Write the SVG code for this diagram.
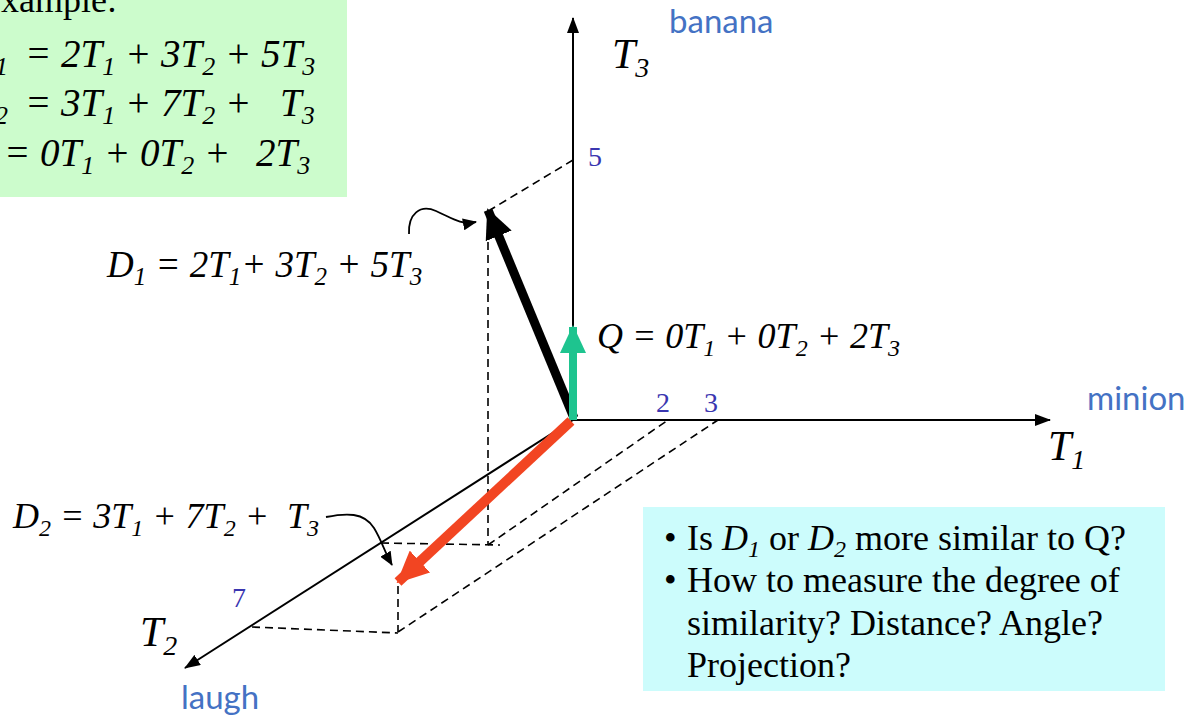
<svg xmlns="http://www.w3.org/2000/svg" width="1192" height="719" viewBox="0 0 1192 719">
<style>
.eq{font-family:"Liberation Serif","Times New Roman",serif;font-style:italic;fill:#000}
.up{font-family:"Liberation Serif","Times New Roman",serif;fill:#000}
.num{font-family:"Liberation Serif","Times New Roman",serif;fill:#3a36b0;font-size:28px}
.word{font-family:Lato,"Open Sans",sans-serif;fill:#4472c4;font-size:33px}
.axis{stroke:#000;stroke-width:2;fill:none}
.dash{stroke:#000;stroke-width:1.6;fill:none;stroke-dasharray:8 5}
.ptr{stroke:#000;stroke-width:1.8;fill:none}
</style>
<defs>
<marker id="ah" markerWidth="16" markerHeight="12" refX="15" refY="6" orient="auto" markerUnits="userSpaceOnUse"><path d="M0,0 L16,6 L0,12 Z" fill="#000"/></marker>
<marker id="ahs" markerWidth="14" markerHeight="12" refX="13" refY="6" orient="auto" markerUnits="userSpaceOnUse"><path d="M0,0 L14,6 L0,12 Z" fill="#000"/></marker>
<marker id="big-k" markerWidth="30" markerHeight="28" refX="28" refY="14" orient="auto" markerUnits="userSpaceOnUse"><path d="M0,0 L30,14 L0,28 Z" fill="#000"/></marker>
<marker id="big-g" markerWidth="28" markerHeight="26" refX="26" refY="13" orient="auto" markerUnits="userSpaceOnUse"><path d="M0,0 L28,13 L0,26 Z" fill="#1ec48f"/></marker>
<marker id="big-r" markerWidth="32" markerHeight="30" refX="30" refY="15" orient="auto" markerUnits="userSpaceOnUse"><path d="M0,0 L32,15 L0,30 Z" fill="#f24522"/></marker>
</defs>
<rect width="1192" height="719" fill="#fff"/>

<g id="example-box">
<rect x="0" y="0" width="347" height="197" fill="#ccfccc"/>
<text class="up" x="-21" y="12" font-size="36">Example:</text>
<text class="eq" font-size="39" x="8" y="67" text-anchor="end">D<tspan font-size="26" dy="8">1</tspan></text>
<text class="eq" font-size="39" x="25" y="67">= 2T<tspan font-size="26" dy="8">1</tspan><tspan dy="-8"> + 3T</tspan><tspan font-size="26" dy="8">2</tspan><tspan dy="-8"> + 5T</tspan><tspan font-size="26" dy="8">3</tspan></text>
<text class="eq" font-size="39" x="8" y="116" text-anchor="end">D<tspan font-size="26" dy="8">2</tspan></text>
<text class="eq" font-size="39" x="25" y="116">= 3T<tspan font-size="26" dy="8">1</tspan><tspan dy="-8"> + 7T</tspan><tspan font-size="26" dy="8">2</tspan><tspan dy="-8"> +</tspan></text>
<text class="eq" font-size="39" x="280" y="116">T<tspan font-size="26" dy="8">3</tspan></text>
<text class="eq" font-size="39" x="-6" y="166" text-anchor="end">Q</text>
<text class="eq" font-size="39" x="4" y="166">= 0T<tspan font-size="26" dy="8">1</tspan><tspan dy="-8"> + 0T</tspan><tspan font-size="26" dy="8">2</tspan><tspan dy="-8"> +</tspan></text>
<text class="eq" font-size="39" x="256" y="166">2T<tspan font-size="26" dy="8">3</tspan></text>
</g>

<g id="question-box">
<rect x="643" y="507" width="522" height="184" fill="#ccfcfc"/>
<text class="up" font-size="36" x="664" y="550">•</text>
<text class="up" font-size="36" x="687" y="550">Is <tspan font-style="italic">D</tspan><tspan font-style="italic" font-size="24" dy="7">1</tspan><tspan dy="-7"> or </tspan><tspan font-style="italic">D</tspan><tspan font-style="italic" font-size="24" dy="7">2</tspan><tspan dy="-7"> more similar to Q?</tspan></text>
<text class="up" font-size="36" x="664" y="592">•</text>
<text class="up" font-size="36" x="687" y="592">How to measure the degree of</text>
<text class="up" font-size="36" x="687" y="635">similarity? Distance? Angle?</text>
<text class="up" font-size="36" x="687" y="677">Projection?</text>
</g>

<g id="connectors">
<line class="axis" x1="573" y1="421" x2="573" y2="18" marker-end="url(#ah)"/>
<line class="axis" x1="572" y1="420" x2="1050" y2="420" marker-end="url(#ah)"/>
<line class="axis" x1="573" y1="420" x2="185" y2="668" marker-end="url(#ah)"/>

<line class="dash" x1="573" y1="160" x2="490" y2="210"/>
<line class="dash" x1="488" y1="216" x2="488" y2="545"/>
<line class="dash" x1="381" y1="543" x2="500" y2="545"/>
<line class="dash" x1="488" y1="545" x2="668" y2="420"/>
<line class="dash" x1="398" y1="586" x2="398" y2="632" stroke-dasharray="8 4 2 4"/>
<line class="dash" x1="252" y1="627" x2="398" y2="633"/>
<line class="dash" x1="398" y1="632" x2="718" y2="420"/>

<line x1="574" y1="418" x2="488" y2="210" stroke="#000" stroke-width="9" marker-end="url(#big-k)"/>
<line x1="573" y1="420" x2="573" y2="327" stroke="#1ec48f" stroke-width="8" marker-end="url(#big-g)"/>
<line x1="571" y1="421" x2="398" y2="582" stroke="#f24522" stroke-width="10" marker-end="url(#big-r)"/>

<path class="ptr" d="M409,234 C408,214 420,204 436,211 C452,218 460,225 476,222" marker-end="url(#ahs)"/>
<path class="ptr" d="M326,517 C346,513 364,512 374,528 C382,541 385,553 392,565" marker-end="url(#ahs)"/>
</g>

<g id="labels">
<text class="eq" font-size="37" x="107" y="277">D<tspan font-size="25" dy="8">1</tspan><tspan dy="-8"> = 2T</tspan><tspan font-size="25" dy="8">1</tspan><tspan dy="-8">+ 3T</tspan><tspan font-size="25" dy="8">2</tspan><tspan dy="-8"> + 5T</tspan><tspan font-size="25" dy="8">3</tspan></text>
<text class="eq" font-size="36" x="597" y="348">Q = 0T<tspan font-size="24" dy="8">1</tspan><tspan dy="-8"> + 0T</tspan><tspan font-size="24" dy="8">2</tspan><tspan dy="-8"> + 2T</tspan><tspan font-size="24" dy="8">3</tspan></text>
<text class="eq" font-size="36" x="13" y="528">D<tspan font-size="24" dy="8">2</tspan><tspan dy="-8"> = 3T</tspan><tspan font-size="24" dy="8">1</tspan><tspan dy="-8"> + 7T</tspan><tspan font-size="24" dy="8">2</tspan><tspan dy="-8"> +&#160; T</tspan><tspan font-size="24" dy="8">3</tspan></text>

<text class="eq" font-size="42" x="612" y="68">T<tspan font-size="28" dy="9">3</tspan></text>
<text class="eq" font-size="42" x="1048" y="460">T<tspan font-size="28" dy="9">1</tspan></text>
<text class="eq" font-size="42" x="140" y="646">T<tspan font-size="28" dy="9">2</tspan></text>

<text class="num" x="588" y="166">5</text>
<text class="num" x="656" y="412">2</text>
<text class="num" x="704" y="412">3</text>
<text class="num" x="232" y="607">7</text>

<text class="word" x="669" y="33">banana</text>
<text class="word" x="1087" y="410">minion</text>
<text class="word" x="181" y="709">laugh</text>
</g>
</svg>
